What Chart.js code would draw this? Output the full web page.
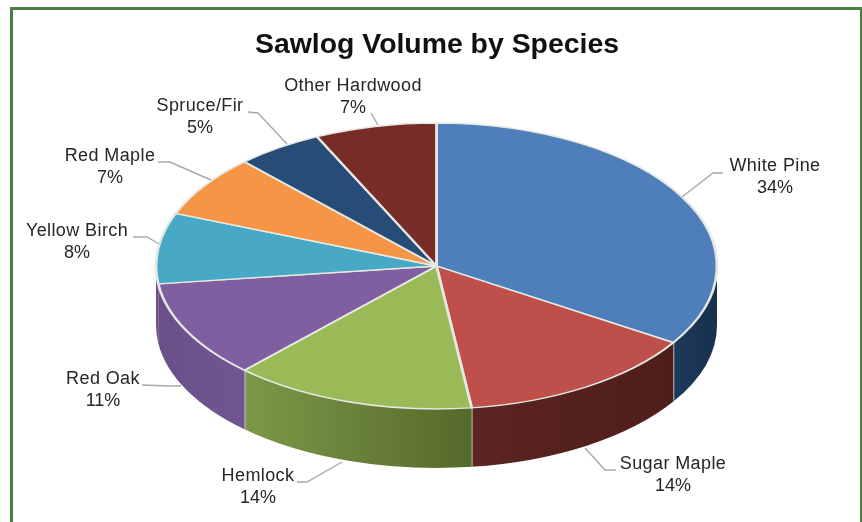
<!DOCTYPE html>
<html>
<head>
<meta charset="utf-8">
<title>Sawlog Volume by Species</title>
<script src="https://cdn.jsdelivr.net/npm/chart.js@4"></script>
<style>
    html, body { margin: 0; padding: 0; background: #fff; overflow: hidden; }
    #wrap { position: relative; width: 862px; height: 522px; }
    #frame {
        position: absolute; left: 10px; top: 7px; right: 0; bottom: 0;
        border: 3px solid #4a7d3f; border-bottom: none; border-right-width: 2px;
    }
    canvas { position: absolute; left: 0; top: 0; }
</style>
</head>
<body>
<div id="wrap">
    <div id="frame"></div>
    <canvas id="pie" width="862" height="522"></canvas>
</div>
<script>
// Chart data, clockwise from 12 o'clock
const species = ['White Pine', 'Sugar Maple', 'Hemlock', 'Red Oak', 'Yellow Birch', 'Red Maple', 'Spruce/Fir', 'Other Hardwood'];
const sharePct = [34, 14, 14, 11, 8, 7, 5, 7];

// Slice colours: top face, then wall gradient left -> right
const topColors = ['#4f7fbb', '#bf4f4b', '#9aba58', '#7f5fa0', '#47a9c5', '#f59545', '#274c77', '#772c28'];
const wallLeft = ['#1d3a5c', '#5c2521', '#7c9848', '#6a5088', '#6a5088', '#a86026', '#1b3350', '#4f1d1b'];
const wallRight = ['#17304e', '#4e1d1a', '#556a2b', '#6f5692', '#6a5088', '#a86026', '#1b3350', '#4f1d1b'];

// Squashed disc on the page
const DISC = { x: 436.5, y: 266, rx: 280.5, ry: 143, depth: 59 };

// Label centres (first line) and leader line paths
const labelAt = [[775, 166], [673, 464], [258, 476], [103, 379], [77, 231], [110, 156], [200, 106], [353, 86]];
const leaders = [
    [[723, 173], [713, 173], [682, 197]],
    [[616, 470], [605, 470], [585, 448]],
    [[297, 482], [307, 482], [342, 462]],
    [[142, 385], [170, 386], [181, 386]],
    [[133, 237], [147, 237], [159, 244]],
    [[158, 162], [170, 162], [211, 180]],
    [[248, 112], [258, 113], [287, 144]],
    [[371, 113], [378, 125]]
];
const LABEL_LINE_GAP = 22;

// Draws the outer wall of the front half, one piece per slice
function drawWalls(ctx, arcs) {
    arcs.forEach((arc, i) => {
        const start = Math.max(arc.startAngle, 0);
        const end = Math.min(arc.endAngle, Math.PI);
        if (end <= start) return;

        const x0 = DISC.x + DISC.rx * Math.cos(end);
        const x1 = DISC.x + DISC.rx * Math.cos(start);
        const grad = ctx.createLinearGradient(x0, 0, x1, 0);
        grad.addColorStop(0, wallLeft[i]);
        grad.addColorStop(1, wallRight[i]);

        ctx.beginPath();
        ctx.ellipse(DISC.x, DISC.y, DISC.rx, DISC.ry, 0, start, end);
        ctx.ellipse(DISC.x, DISC.y + DISC.depth, DISC.rx, DISC.ry, 0, end, start, true);
        ctx.closePath();
        ctx.fillStyle = grad;
        ctx.fill();

        // pale seam where this slice ends
        if (arc.endAngle < Math.PI * 0.9) {
            const sx = DISC.x + DISC.rx * Math.cos(end);
            const sy = DISC.y + DISC.ry * Math.sin(end);
            ctx.beginPath();
            ctx.moveTo(sx, sy);
            ctx.lineTo(sx, sy + DISC.depth);
            ctx.strokeStyle = '#c9cdc6';
            ctx.lineWidth = 1.8;
            ctx.stroke();
        }
    });
}

function drawLabels(ctx) {
    ctx.strokeStyle = '#a8a8a8';
    ctx.lineWidth = 1.4;
    leaders.forEach(path => {
        ctx.beginPath();
        path.forEach(([x, y], j) => (j ? ctx.lineTo(x, y) : ctx.moveTo(x, y)));
        ctx.stroke();
    });

    ctx.fillStyle = '#262626';
    ctx.font = '18px "Liberation Sans"';
    ctx.textAlign = 'center';
    ctx.textBaseline = 'middle';
    species.forEach((name, i) => {
        const [x, y] = labelAt[i];
        ctx.letterSpacing = '0.4px';
        ctx.fillText(name, x, y);
        ctx.letterSpacing = '0px';
        ctx.fillText(sharePct[i] + '%', x, y + LABEL_LINE_GAP);
    });
}

// Tilts the flat Chart.js pie into a disc with a visible wall
const tiltedDisc = {
    id: 'tiltedDisc',
    beforeDatasetsDraw(chart) {
        const ctx = chart.ctx;
        const arcs = chart.getDatasetMeta(0).data;
        drawWalls(ctx, arcs);

        const first = arcs[0];
        ctx.save();
        ctx.translate(DISC.x, DISC.y);
        ctx.scale(DISC.rx / first.outerRadius, DISC.ry / first.outerRadius);
        ctx.translate(-first.x, -first.y);
    },
    afterDatasetsDraw(chart) {
        chart.ctx.restore();
        drawLabels(chart.ctx);
    }
};

new Chart(document.getElementById('pie').getContext('2d'), {
    type: 'pie',
    data: {
        labels: species,
        datasets: [{
            data: sharePct,
            backgroundColor: topColors,
            borderColor: '#e6e8e4',
            borderWidth: 2.2,
            clip: false
        }]
    },
    options: {
        responsive: false,
        animation: false,
        events: [],
        layout: { padding: { left: 12, top: 10 } },
        plugins: {
            legend: { display: false },
            tooltip: { enabled: false },
            title: {
                display: true,
                text: 'Sawlog Volume by Species',
                color: '#111',
                font: { family: '"Liberation Sans"', size: 28.4, weight: 'bold' },
                padding: { top: 18, bottom: 8 }
            }
        }
    },
    plugins: [tiltedDisc]
});
</script>
</body>
</html>
